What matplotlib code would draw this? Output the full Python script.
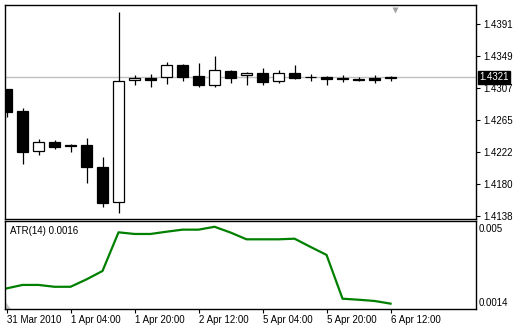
import matplotlib
matplotlib.use('Agg')
import matplotlib.pyplot as plt
from matplotlib.patches import Rectangle, Polygon

# EURUSD-style H4 candles
opens = [1.43057, 1.42767, 1.42239, 1.42357, 1.42318, 1.42318, 1.42027, 1.41565,
         1.43176, 1.43203, 1.43216, 1.43374, 1.43229, 1.43110, 1.43295, 1.43236,
         1.43269, 1.43163, 1.43269, 1.43216, 1.43216, 1.43203, 1.43194, 1.43199,
         1.43212]
highs = [1.43057, 1.42806, 1.42397, 1.42384, 1.42331, 1.42410, 1.42159, 1.44074,
         1.43242, 1.43256, 1.43414, 1.43388, 1.43401, 1.43493, 1.43308, 1.43282,
         1.43335, 1.43308, 1.43374, 1.43256, 1.43229, 1.43242, 1.43212, 1.43238,
         1.43225]
lows = [1.42688, 1.42067, 1.42186, 1.42265, 1.42225, 1.41816, 1.41499, 1.41420,
        1.43110, 1.43084, 1.43123, 1.43163, 1.43084, 1.43084, 1.43137, 1.43110,
        1.43110, 1.43137, 1.43189, 1.43163, 1.43110, 1.43156, 1.43163, 1.43141,
        1.43167]
closes = [1.42754, 1.42225, 1.42357, 1.42291, 1.42298, 1.42027, 1.41552, 1.43163,
          1.43203, 1.43176, 1.43374, 1.43216, 1.43110, 1.43308, 1.43203, 1.43269,
          1.43150, 1.43269, 1.43203, 1.43210, 1.43189, 1.43183, 1.43172, 1.43172,
          1.43199]
atr = [0.00206, 0.00223, 0.00223, 0.00214, 0.00214, 0.00250, 0.00291, 0.00479,
       0.00471, 0.00471, 0.00482, 0.00492, 0.00492, 0.00506, 0.00478, 0.00445,
       0.00445, 0.00445, 0.00448, 0.00408, 0.00369, 0.00156, 0.00151, 0.00145,
       0.00132]

price_ticks = [1.4138, 1.4180, 1.4222, 1.4265, 1.4307, 1.4349, 1.4391]
atr_ticks = [0.005, 0.0014]
time_labels = ['31 Mar 2010', '1 Apr 04:00', '1 Apr 20:00', '2 Apr 12:00',
               '5 Apr 04:00', '5 Apr 20:00', '6 Apr 12:00']
time_label_idx = [0, 4, 8, 12, 16, 20, 24]
last_price = 1.4321
atr_title = 'ATR(14) 0.0016'

plt.rcParams['font.family'] = 'Liberation Sans'
plt.rcParams['font.size'] = 7

W, H = 515, 329
fig = plt.figure(figsize=(W / 100, H / 100), dpi=100)
ax = fig.add_axes([5 / W, (H - 219) / H, 471 / W, 214 / H])
ax2 = fig.add_axes([5 / W, (H - 309) / H, 471 / W, 88 / H])

# current price line
ax.axhline(last_price, color='#c0c0c0', lw=1, zorder=1)

half = 0.34
for i in range(len(opens)):
    o, h, l, c = opens[i], highs[i], lows[i], closes[i]
    ax.plot([i, i], [l, h], color='black', lw=0.9, zorder=2, solid_capstyle='butt')
    face = 'white' if c > o else 'black'
    ax.add_patch(Rectangle((i - half, min(o, c)), 2 * half, abs(c - o),
                           facecolor=face, edgecolor='black', lw=0.9, zorder=3))

ax.set_xlim(-0.094, 29.34)
ax.set_ylim(1.41340, 1.44167)
ax.yaxis.tick_right()
ax.set_yticks(price_ticks)
ax.set_yticklabels([f'{v:.4f}' for v in price_ticks])
ax.tick_params(axis='y', length=3, width=0.8, pad=2)
ax.set_xticks([])
for s in ax.spines.values():
    s.set_color('black')
    s.set_linewidth(1)

# current price box
ax.annotate(f'{last_price:.4f}', xy=(1.0, last_price),
            xycoords=('axes fraction', 'data'), xytext=(2.5, 0),
            textcoords='offset points', ha='left', va='center', color='white',
            fontsize=7, bbox=dict(boxstyle='square,pad=0.15', fc='black', ec='black'))

# chart shift marker
ax.plot([0.828], [0.978], marker='v', ms=4.5, color='#a0a0a0', mec='none',
        transform=ax.transAxes, clip_on=False)

# ATR panel
ax2.plot(range(len(atr)), atr, color='#008000', lw=1.6)
ax2.set_xlim(-0.094, 29.34)
ax2.set_ylim(0.001059, 0.005341)
ax2.yaxis.tick_right()
ax2.set_yticks(atr_ticks)
ax2.set_yticklabels(['0.005', '0.0014'])
ax2.tick_params(axis='y', length=0, pad=2)
ax2.set_xticks(time_label_idx)
ax2.set_xticklabels(time_labels, ha='left')
ax2.tick_params(axis='x', length=3, width=0.8, pad=1.5)
ax2.text(0.011, 0.885, atr_title, transform=ax2.transAxes, ha='left', va='center',
         fontsize=7)
ax2.add_patch(Polygon([(0, 0), (0, 0.09), (0.0127, 0)], closed=True,
                      transform=ax2.transAxes, fc='#c8c8c8', ec='none'))
for s in ax2.spines.values():
    s.set_color('black')
    s.set_linewidth(1)

fig.savefig('out.png', dpi=100, facecolor='white')
